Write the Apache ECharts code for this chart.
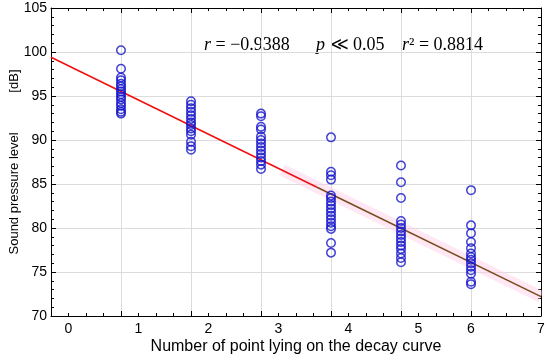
<!DOCTYPE html>
<html><head><meta charset="utf-8">
<script src="https://cdn.jsdelivr.net/npm/echarts@6/dist/echarts.min.js"></script>
<style>html,body{margin:0;padding:0;background:#fff}#c{width:550px;height:364px}</style>
</head><body><div id="c"></div>
<script>
// x positions of the measurement columns
const columnX = [1, 2, 3, 4, 5, 6];
// sound pressure levels [dB] per column
const col1 = [100.2, 98.1, 97.1, 96.8, 96.4, 96.1, 95.8, 95.5, 95.2, 94.9, 94.6, 94.2, 93.9, 93.5, 93.2, 93.0];
const col2 = [94.4, 94.0, 93.6, 93.2, 92.8, 92.4, 92.0, 91.7, 91.3, 91.0, 90.6, 89.8, 89.3, 88.9];
const col3 = [93.0, 92.7, 91.5, 91.2, 90.4, 90.0, 89.6, 89.2, 88.8, 88.4, 88.0, 87.6, 87.2, 86.7];
const col4 = [90.3, 86.4, 86.0, 85.5, 83.7, 83.4, 83.0, 82.6, 82.2, 81.8, 81.4, 81.0, 80.6, 80.2, 79.9, 78.3, 77.2];
const col5 = [87.1, 85.2, 83.4, 80.8, 80.4, 80.0, 79.6, 79.2, 78.8, 78.4, 78.0, 77.6, 77.1, 76.6, 76.1];
const col6 = [84.3, 80.3, 79.4, 78.4, 77.7, 77.1, 76.7, 76.4, 76.0, 75.6, 75.2, 74.8, 73.9, 73.6];
const columns = [col1, col2, col3, col4, col5, col6];

// regression line (red part, brown part)
const fitRedX = [0, 3.8];
const fitRedY = [99.4, 84.63];
const fitBrownX = [3.8, 7];
const fitBrownY = [84.63, 72.2];
const bandX = [3.3, 7];
const bandY = [86.6, 72.2];

// x tick labels and where they are printed on the axis
const xTickLabels = ['0', '1', '2', '3', '4', '5', '6', '7'];
const xTickLabelAt = [0.25, 1.25, 2.25, 3.25, 4.25, 5.25, 6, 7];

const scatterData = [];
columns.forEach((col, i) => col.forEach(v => scatterData.push([columnX[i], v])));

const FONT = 'Liberation Sans, Arial, sans-serif';
const SERIF = 'Liberation Serif, Times New Roman, serif';

const chart = echarts.init(document.getElementById('c'), null, {renderer: 'canvas'});
const axisLineStyle = {color: '#000', width: 1};
chart.setOption({
  animation: false,
  grid: {left: 51, right: 9, top: 8, bottom: 48, containLabel: false, outerBoundsMode: 'none'},
  xAxis: [
    {type: 'value', min: 0, max: 7, interval: 1, position: 'bottom',
     axisLine: {show: true, onZero: false, lineStyle: axisLineStyle},
     axisTick: {show: true, inside: true, length: 5, lineStyle: {color: '#000'}},
     minorTick: {show: true, splitNumber: 4, length: 3, lineStyle: {color: '#000'}},
     splitLine: {show: true, lineStyle: {color: '#dcdcdc', width: 1}},
     axisLabel: {show: false},
     name: 'Number of point lying on the decay curve', nameLocation: 'middle', nameGap: 23,
     nameMoveOverlap: false,
     nameTextStyle: {fontFamily: FONT, fontSize: 16, color: '#000'}},
    {type: 'value', min: 0, max: 7, interval: 1, position: 'top',
     axisLine: {show: true, onZero: false, lineStyle: axisLineStyle},
     axisTick: {show: true, inside: true, length: 5, lineStyle: {color: '#000'}},
     minorTick: {show: true, splitNumber: 4, length: 3, lineStyle: {color: '#000'}},
     splitLine: {show: false}, axisLabel: {show: false}},
    {type: 'value', min: 0, max: 7, interval: 0.25, position: 'bottom',
     axisLine: {show: false}, axisTick: {show: false}, splitLine: {show: false},
     axisLabel: {show: true, margin: 6, fontFamily: FONT, fontSize: 14, color: '#000',
       showMinLabel: true, showMaxLabel: true, hideOverlap: false,
       formatter: v => { const i = xTickLabelAt.findIndex(p => Math.abs(p - v) < 1e-6); return i >= 0 ? xTickLabels[i] : ''; }}}
  ],
  yAxis: [
    {type: 'value', min: 70, max: 105, interval: 5, position: 'left',
     axisLine: {show: true, onZero: false, lineStyle: axisLineStyle},
     axisTick: {show: true, inside: true, length: 5, lineStyle: {color: '#000'}},
     minorTick: {show: true, splitNumber: 5, length: 3, lineStyle: {color: '#000'}},
     splitLine: {show: true, lineStyle: {color: '#dcdcdc', width: 1}},
     axisLabel: {margin: 4, fontFamily: FONT, fontSize: 14, color: '#000'},
     name: 'Sound pressure level           [dB]', nameLocation: 'middle', nameGap: 30,
     nameMoveOverlap: false,
     nameTextStyle: {fontFamily: FONT, fontSize: 13, color: '#000'}},
    {type: 'value', min: 70, max: 105, interval: 5, position: 'right',
     axisLine: {show: true, onZero: false, lineStyle: axisLineStyle},
     axisTick: {show: true, inside: true, length: 5, lineStyle: {color: '#000'}},
     minorTick: {show: true, splitNumber: 5, length: 3, lineStyle: {color: '#000'}},
     splitLine: {show: false}, axisLabel: {show: false}}
  ],
  series: [
    {type: 'line', data: bandX.map((x, i) => [x, bandY[i]]), symbol: 'none', silent: true, z: 1,
     lineStyle: {color: 'rgba(255,205,230,0.45)', width: 12}},
    {type: 'line', data: fitRedX.map((x, i) => [x, fitRedY[i]]), symbol: 'none', z: 3,
     lineStyle: {color: '#f01010', width: 1.6}},
    {type: 'line', data: fitBrownX.map((x, i) => [x, fitBrownY[i]]), symbol: 'none', z: 3,
     lineStyle: {color: '#7b4a1c', width: 1.6}},
    {type: 'scatter', data: scatterData, symbol: 'circle', symbolSize: 8.5, z: 4,
     itemStyle: {color: 'rgba(255,255,255,0)', borderColor: '#1414cc', borderWidth: 1.5}}
  ],
  graphic: [
    {type: 'text', left: 204, top: 36, style: {
      text: '{i|r} = −0.9388', fontFamily: SERIF, fontSize: 18, fill: '#000',
      rich: {i: {fontFamily: SERIF, fontSize: 18, fontStyle: 'italic'}}}},
    {type: 'text', left: 316, top: 36, style: {
      text: '{i|p} ≪ 0.05', fontFamily: SERIF, fontSize: 18, fill: '#000',
      rich: {i: {fontFamily: SERIF, fontSize: 18, fontStyle: 'italic'}}}},
    {type: 'text', left: 402, top: 36, style: {
      text: '{i|r}² = 0.8814', fontFamily: SERIF, fontSize: 18, fill: '#000',
      rich: {i: {fontFamily: SERIF, fontSize: 18, fontStyle: 'italic'}}}}
  ]
});
</script></body></html>
